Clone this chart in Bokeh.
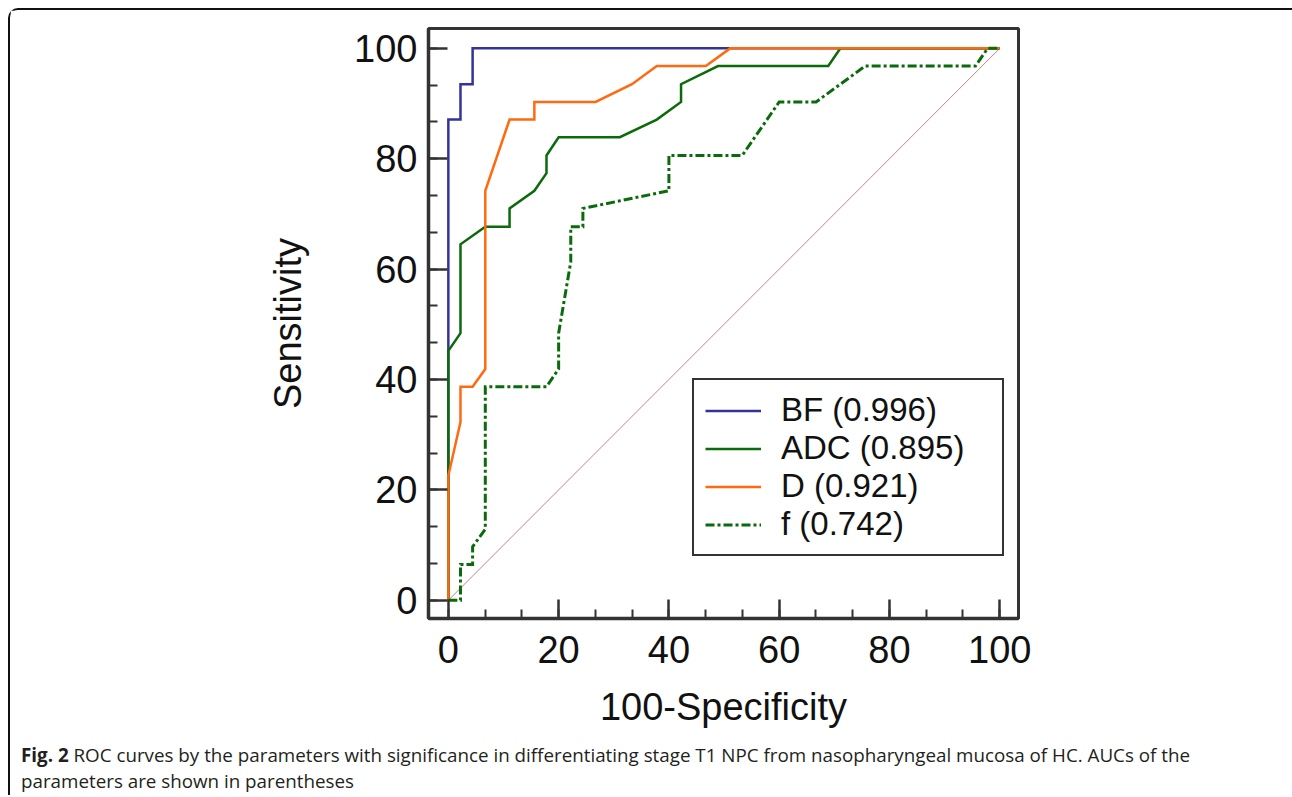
from bokeh.plotting import figure
from bokeh.models import Legend, LegendItem, SingleIntervalTicker, Div
from bokeh.layouts import column
from bokeh.embed import file_html
from bokeh.resources import INLINE

# ---- data ----
bf_x = [0, 0, 2.2, 2.2, 4.4, 4.4, 100]
bf_y = [0, 87.1, 87.1, 93.5, 93.5, 100, 100]

adc_x = [0, 0, 2.2, 2.2, 6.7, 11.1, 11.1, 15.6, 17.8, 17.8, 20.0, 31.1, 37.8, 42.2, 42.2, 48.9, 68.9, 71.1, 100]
adc_y = [0, 45.2, 48.4, 64.5, 67.7, 67.7, 71.0, 74.2, 77.4, 80.6, 83.9, 83.9, 87.1, 90.3, 93.5, 96.8, 96.8, 100, 100]

d_x = [0, 0, 2.2, 2.2, 4.4, 6.7, 6.7, 11.1, 15.6, 15.6, 26.7, 33.3, 37.8, 46.7, 51.1, 100]
d_y = [0, 22.6, 32.3, 38.7, 38.7, 41.9, 74.2, 87.1, 87.1, 90.3, 90.3, 93.5, 96.8, 96.8, 100, 100]

f_x = [0, 2.2, 2.2, 4.4, 4.4, 6.7, 6.7, 17.8, 20.0, 20.0, 22.2, 22.2, 24.4, 24.4, 40.0, 40.0, 53.3, 60.0, 66.7, 75.6, 95.6, 97.8, 100]
f_y = [0, 0, 6.5, 6.5, 9.7, 12.9, 38.7, 38.7, 41.9, 48.4, 61.3, 67.7, 67.7, 71.0, 74.2, 80.6, 80.6, 90.3, 90.3, 96.8, 96.8, 100, 100]

ref_x = [0, 100]
ref_y = [0, 100]

labels = ["BF (0.996)", "ADC (0.895)", "D (0.921)", "f (0.742)"]

x_label = "100-Specificity"
y_label = "Sensitivity"
caption = ("<b>Fig. 2</b> ROC curves by the parameters with significance in differentiating stage T1 NPC "
           "from nasopharyngeal mucosa of HC. AUCs of the<br>parameters are shown in parentheses")

# ---- figure ----
W, H = 1280, 725
p = figure(width=W, height=H, x_range=(-3.6, 103.4), y_range=(-3.3, 103.6),
           output_backend="svg", toolbar_location=None,
           min_border_left=418, min_border_right=W - 1008,
           min_border_top=18, min_border_bottom=H - 608)
p.xgrid.visible = False
p.ygrid.visible = False
p.outline_line_color = "#333333"
p.outline_line_width = 3

for ax in (p.xaxis[0], p.yaxis[0]):
    ax.ticker = SingleIntervalTicker(interval=20, num_minor_ticks=3)
    ax.axis_line_color = "#333333"
    ax.axis_line_width = 3.5
    ax.major_tick_line_color = "#333333"
    ax.major_tick_line_width = 2.5
    ax.minor_tick_line_color = "#333333"
    ax.minor_tick_line_width = 2
    ax.major_tick_in = 19
    ax.major_tick_out = 0
    ax.minor_tick_in = 9
    ax.minor_tick_out = 0
    ax.major_label_text_font = "Liberation Sans"
    ax.major_label_text_font_size = "38px"
    ax.major_label_text_color = "#111111"
    ax.axis_label_text_font = "Liberation Sans"
    ax.axis_label_text_font_size = "38px"
    ax.axis_label_text_font_style = "normal"
    ax.axis_label_text_color = "#111111"

p.xaxis[0].axis_label = x_label
p.yaxis[0].axis_label = y_label
p.xaxis[0].major_label_standoff = 17
p.xaxis[0].axis_label_standoff = 20
p.yaxis[0].major_label_standoff = 11
p.yaxis[0].axis_label_standoff = 42

p.line(ref_x, ref_y, line_color="#c48484", line_width=1)
r_bf = p.line(bf_x, bf_y, line_color="#333399", line_width=2.5, line_join="miter")
r_adc = p.line(adc_x, adc_y, line_color="#0b6b0b", line_width=2.5, line_join="miter")
r_d = p.line(d_x, d_y, line_color="#ff6a10", line_width=2.5, line_join="miter")
r_f = p.line(f_x, f_y, line_color="#0b6b0b", line_width=3, line_dash="9 3 3 3", line_join="miter")

legend = Legend(items=[LegendItem(label=labels[0], renderers=[r_bf]),
                       LegendItem(label=labels[1], renderers=[r_adc]),
                       LegendItem(label=labels[2], renderers=[r_d]),
                       LegendItem(label=labels[3], renderers=[r_f])],
                location=(264, 62))
legend.border_line_color = "#333333"
legend.border_line_width = 2.5
legend.border_line_alpha = 1.0
legend.label_text_font = "Liberation Sans"
legend.label_text_font_size = "33px"
legend.label_text_color = "#111111"
legend.glyph_width = 56
legend.glyph_height = 37
legend.label_height = 37
legend.label_width = 210
legend.label_standoff = 20
legend.padding = 11
legend.spacing = 0
legend.margin = 0
p.add_layout(legend)

cap = Div(text='<div style="padding:2px 0 0 6px; font-family:\'Open Sans\'; font-size:18.8px; '
               'line-height:26px; color:#231f20; white-space:nowrap;">' + caption + '</div>',
          width=W, height=50)

layout = column(p, cap, styles={"margin": "8px 0 0 8px",
                                "border-top": "2px solid #111", "border-left": "2px solid #111",
                                "border-right": "2px solid #111", "border-radius": "10px 10px 0 0"})

open("out.html", "w").write(file_html(layout, INLINE))
